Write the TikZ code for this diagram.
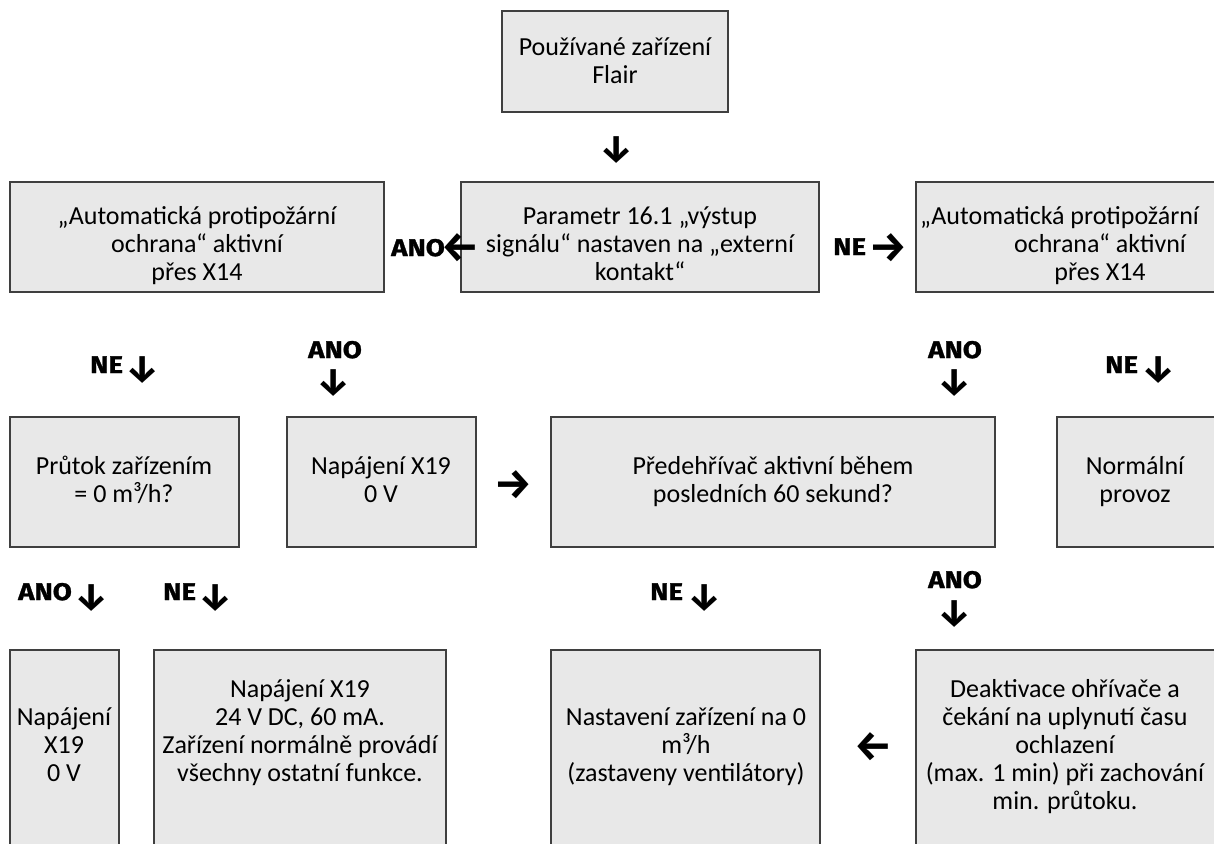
\documentclass[tikz,border=0pt]{standalone}
\usepackage{fontspec}
\setmainfont{Carlito}
\newfontfamily\lblfont{Fira Sans}[FakeStretch=1.15,BoldFeatures={FakeBold=1.2}]
\newfontfamily\arrfont{Fira Sans}
\definecolor{boxline}{HTML}{3F3F3F}
\definecolor{boxfill}{HTML}{E8E8E8}
\newcommand\bodysize{\fontsize{26}{28}\selectfont}
\newcommand\lblsize{\lblfont\bfseries\fontsize{24}{26}\selectfont}
\newcommand\arrvsize{\arrfont\bfseries\fontsize{38}{40}\selectfont}
\newcommand\arrhsize{\arrfont\bfseries\fontsize{42}{44}\selectfont}
\newcommand\firstln{\rule{0pt}{20pt}}
\begin{document}
\begin{tikzpicture}[x=1pt,y=-1pt,
  box/.style={draw=boxline,fill=boxfill,line width=1.4pt,inner sep=0pt,outer sep=0pt,anchor=north west},
  txt/.style={font=\bodysize,align=center,inner sep=0pt,anchor=north,text=black},
  txtl/.style={font=\bodysize,inner sep=0pt,anchor=base west,text=black},
  lbl/.style={font=\lblsize,inner sep=0pt,anchor=base west,text=black},
  arwv/.style={font=\arrvsize,inner sep=0pt,anchor=center,text=black},
  arwh/.style={font=\arrhsize,inner sep=0pt,anchor=center,text=black}]
\useasboundingbox (0,0) rectangle (1214,843);
\clip (0,0) rectangle (1214,843);
% top
\node[box,minimum width=226pt,minimum height=101pt] (bTop) at (502,11) {};
\node[txt] (tTop) at (615,35) {\firstln Používané zařízení\\Flair};
% row 2
\node[box,minimum width=374pt,minimum height=110pt] (bL2) at (10,182) {};
\node[txt] (tL2) at (197,204) {\firstln„Automatická protipožární\\ochrana“ aktivní\\přes X14};
\node[box,minimum width=358pt,minimum height=110pt] (bC2) at (461,182) {};
\node[txt] (tC2) at (640,204) {\firstln Parametr 16.1 „výstup\\signálu“ nastaven na „externí\\kontakt“};
\node[box,minimum width=380pt,minimum height=110pt] (bR2) at (916,182) {};
\node[txtl] (tR2a) at (920,224) {„Automatická protipožární};
\node[txt] (tR2b) at (1100,232) {\firstln ochrana“ aktivní\\přes X14};
% row 3
\node[box,minimum width=229pt,minimum height=130pt] (bA3) at (10,417) {};
\node[txt] (tA3) at (124,454) {\firstln Průtok zařízením\\= 0 m³/h?};
\node[box,minimum width=189pt,minimum height=130pt] (bB3) at (287,417) {};
\node[txt] (tB3) at (381,454) {\firstln Napájení X19\\0 V};
\node[box,minimum width=444pt,minimum height=130pt] (bC3) at (551,417) {};
\node[txt] (tC3) at (773,454) {\firstln Předehřívač aktivní během\\posledních 60 sekund?};
\node[box,minimum width=200pt,minimum height=130pt] (bD3) at (1057,417) {};
\node[txt] (tD3) at (1135,454) {\firstln Normální\\provoz};
% row 4
\node[box,minimum width=109pt,minimum height=220pt] (bA4) at (10,650) {};
\node[txt] (tA4) at (64,705) {\firstln Napájení\\X19\\0 V};
\node[box,minimum width=292pt,minimum height=220pt] (bB4) at (154,650) {};
\node[txt] (tB4) at (300,677) {\firstln Napájení X19\\24 V DC, 60 mA.\\Zařízení normálně provádí\\všechny ostatní funkce.};
\node[box,minimum width=269pt,minimum height=220pt] (bC4) at (551,650) {};
\node[txt] (tC4) at (686,705) {\firstln Nastavení zařízení na 0\\m³/h\\(zastaveny ventilátory)};
\node[box,minimum width=320pt,minimum height=220pt] (bD4) at (916,650) {};
\node[txt] (tD4) at (1065,677) {\firstln Deaktivace ohřívače a\\čekání na uplynutí času\\ochlazení\\(max. 1 min) při zachování\\min. průtoku.};
% labels and arrows
\node[arwv] (aTop) at (617,150) {↓};
\node[lbl] (lAno2) at (391,256) {ANO};
\node[arwh] (aL2) at (460,248) {←};
\node[lbl] (lNe2) at (833,255) {NE};
\node[arwh] (aR2) at (888,248) {→};
\node[lbl] (lNe3a) at (90,373) {NE};
\node[arwv] (aNe3a) at (143,370) {↓};
\node[lbl] (lAno3b) at (308,358) {ANO};
\node[arwv] (aAno3b) at (334,383) {↓};
\node[lbl] (lAno3c) at (928,358) {ANO};
\node[arwv] (aAno3c) at (955,383) {↓};
\node[lbl] (lNe3d) at (1105,373) {NE};
\node[arwv] (aNe3d) at (1159,370) {↓};
\node[arwh] (aR3) at (513,485) {→};
\node[lbl] (lAno4a) at (18,600) {ANO};
\node[arwv] (aAno4a) at (92,598) {↓};
\node[lbl] (lNe4b) at (163,600) {NE};
\node[arwv] (aNe4b) at (216,598) {↓};
\node[lbl] (lNe4c) at (650,600) {NE};
\node[arwv] (aNe4c) at (705,598) {↓};
\node[lbl] (lAno4d) at (928,588) {ANO};
\node[arwv] (aAno4d) at (955,614) {↓};
\node[arwh] (aL4) at (873,747) {←};
\end{tikzpicture}
\end{document}
